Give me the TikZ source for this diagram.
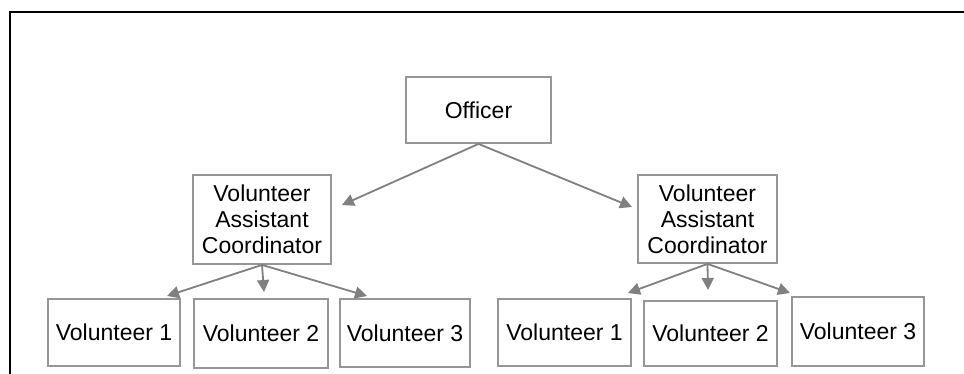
\documentclass[tikz,border=0pt]{standalone}
\usepackage{fontspec}
\setmainfont{Liberation Sans}
\usetikzlibrary{arrows.meta}
\definecolor{boxgray}{RGB}{150,150,150}
\definecolor{arrowgray}{RGB}{128,128,128}
\begin{document}
\begin{tikzpicture}[x=1pt,y=-1pt,
  box/.style={draw=boxgray,line width=1.8pt,inner sep=0pt,align=center,
    font=\fontsize{23}{26}\selectfont,text=black},
  arr/.style={draw=arrowgray,line width=1.8pt,-{Triangle[length=12pt,width=12pt]}}]
\useasboundingbox (0,0) rectangle (964,373);
\fill[white] (0,0) rectangle (964,373);
\draw[line width=2.2pt,black] (10,374) -- (10,12) -- (965,12);
% nodes
\node[box,minimum width=145pt,minimum height=66pt] (officer) at (478.5,110) {Officer};
\node[box,minimum width=138pt,minimum height=89pt] (lvac) at (262,219.5) {Volunteer\\Assistant\\Coordinator};
\node[box,minimum width=139pt,minimum height=88pt] (rvac) at (707.5,219) {Volunteer\\Assistant\\Coordinator};
\node[box,minimum width=132pt,minimum height=67pt] (lv1) at (114,332.5) {Volunteer 1};
\node[box,minimum width=134pt,minimum height=69pt] (lv2) at (261,333.5) {Volunteer 2};
\node[box,minimum width=130pt,minimum height=68pt] (lv3) at (405,333) {Volunteer 3};
\node[box,minimum width=133pt,minimum height=67pt] (rv1) at (564.5,332.5) {Volunteer 1};
\node[box,minimum width=133pt,minimum height=65pt] (rv2) at (710.5,333.5) {Volunteer 2};
\node[box,minimum width=132pt,minimum height=69pt] (rv3) at (858,331.5) {Volunteer 3};
% arrow end points
\coordinate (tlvac) at (342,205);
\coordinate (trvac) at (632,207);
\coordinate (tlv1) at (167,296);
\coordinate (tlv2) at (264,292);
\coordinate (tlv3) at (367,296);
\coordinate (trv1) at (628,293);
\coordinate (trv2) at (708,290);
\coordinate (trv3) at (790,293);
% connectors
\draw[arr] (officer.south) -- (tlvac);
\draw[arr] (officer.south) -- (trvac);
\draw[arr] (lvac.south) -- (tlv1);
\draw[arr] (lvac.south) -- (tlv2);
\draw[arr] (lvac.south) -- (tlv3);
\draw[arr] (rvac.south) -- (trv1);
\draw[arr] (rvac.south) -- (trv2);
\draw[arr] (rvac.south) -- (trv3);
\end{tikzpicture}
\end{document}
